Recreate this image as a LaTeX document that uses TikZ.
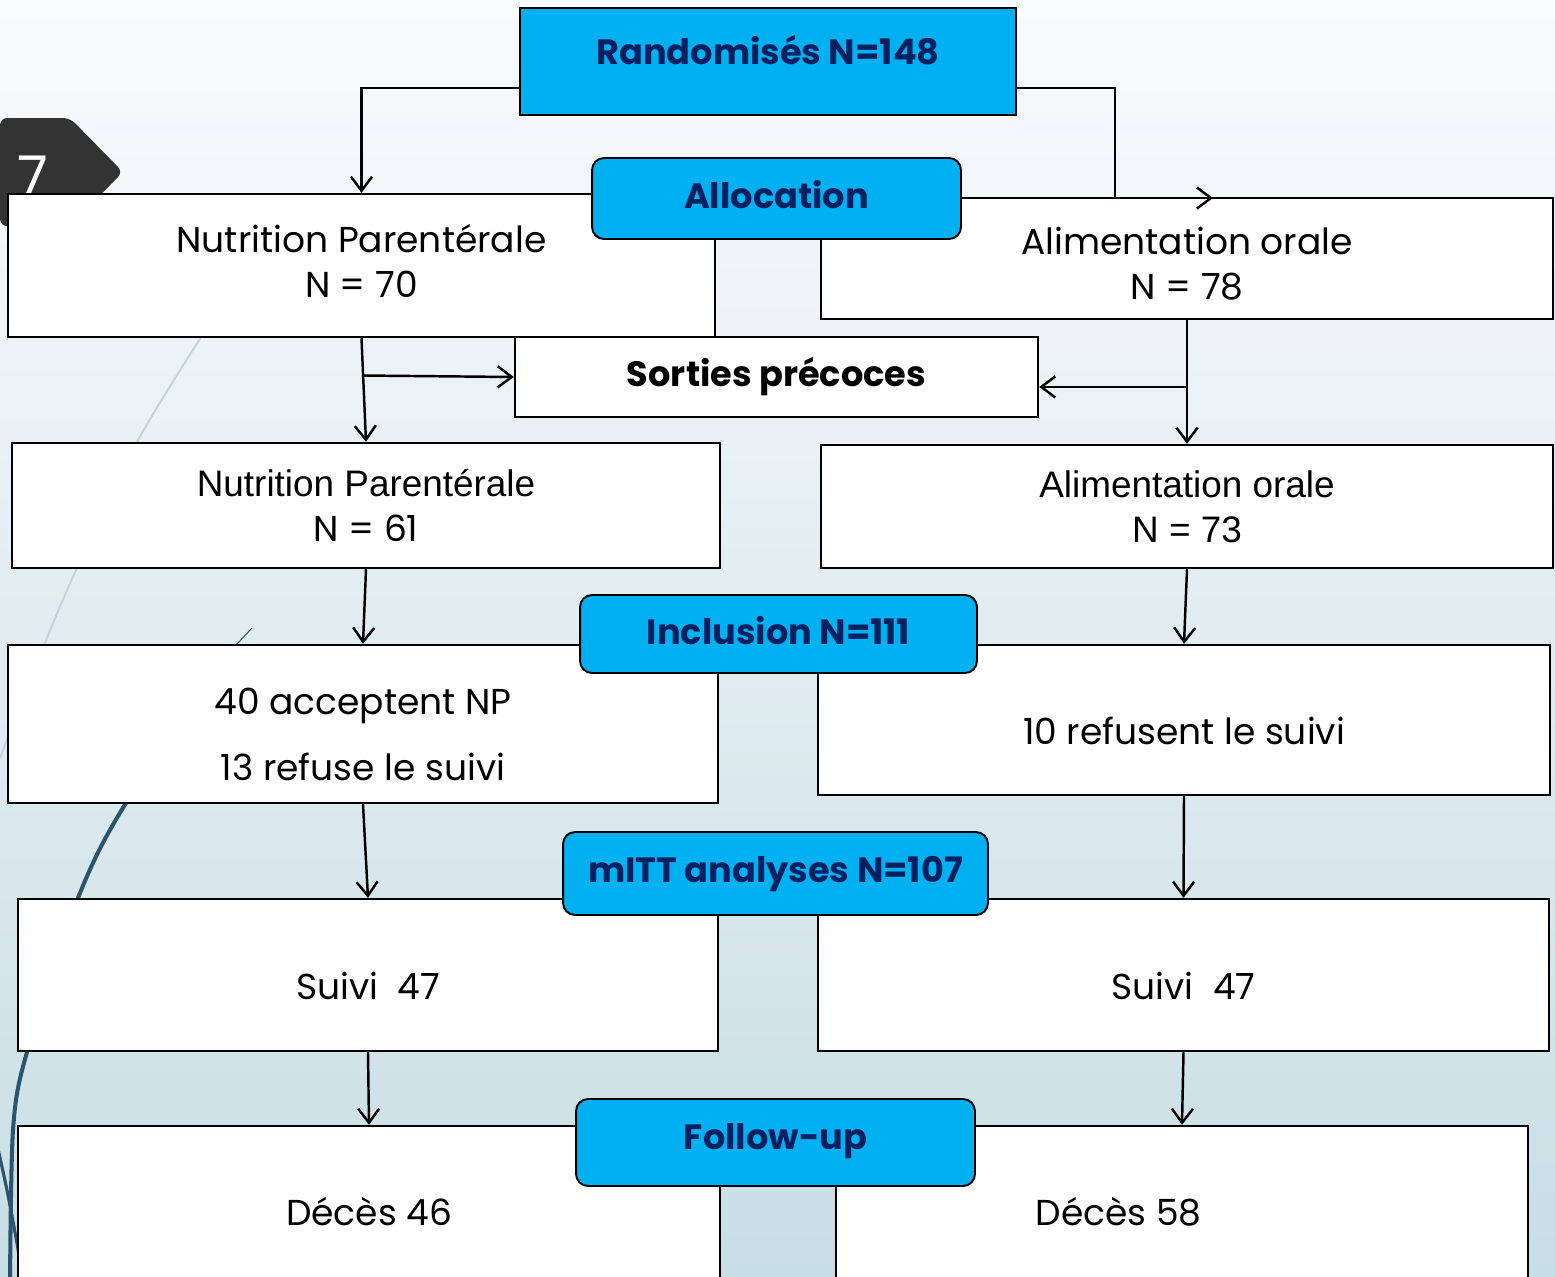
\documentclass[tikz,border=0pt]{standalone}
\usepackage{fontspec}
\setmainfont{Poppins}
\newfontfamily\arialfont{Liberation Sans}
\usetikzlibrary{arrows.meta,calc}

\definecolor{hubblue}{RGB}{0,176,240}
\definecolor{hubtext}{RGB}{0,32,96}
\definecolor{bgtop}{RGB}{250,251,252}
\definecolor{bgbot}{RGB}{200,222,229}
\definecolor{swirl}{RGB}{44,84,108}
\definecolor{faint}{RGB}{196,210,218}
\definecolor{tagGrey}{RGB}{51,51,51}

\tikzset{
  flowbox/.style={draw,line width=1.4pt,fill=white,inner sep=0pt,align=center,
    font=\fontsize{20.5}{25.5}\selectfont},
  hubbox/.style={draw,line width=1.1pt,fill=hubblue,rounded corners=0.24cm,
    text=hubtext,inner sep=0pt,font=\fontsize{20}{23}\selectfont\bfseries},
  lift/.style={text depth=0pt,text height=#1},
  arr/.style={line width=1.4pt,-{Straight Barb[length=8pt,width=12pt]}}
}

\begin{document}
\begin{tikzpicture}[x=0.02cm,y=-0.02cm]
  \useasboundingbox (0,0) rectangle (1555,1276);
  \clip (0,0) rectangle (1555,1276);
  \shade[top color=bgtop,bottom color=bgbot] (0,0) rectangle (1555,1276);

  % background swirls
  \draw[faint,line width=1.1pt] plot[smooth] coordinates {(212,320) (138,440) (77,568) (45,643) (0,758)};
  \draw[swirl,line width=0.6pt] (252,628) -- (236,645);
  \draw[swirl,line width=2.3pt] plot[smooth] coordinates {(236,645) (126,803) (78,898) (27,1052) (13,1130) (10,1290)};
  \draw[swirl,line width=1.8pt] plot[smooth] coordinates {(-4,1140) (8,1195) (20,1260)};

  % slide number tag
  \fill[tagGrey,rounded corners=4pt] (0,118) -- (70,118) -- (123,172) -- (70,226) -- (0,226) -- cycle;
  \node[white,font=\fontsize{32}{32}\selectfont] (slidenum) at (33,176) {7};

  % boxes
  \node[flowbox,minimum width=14.14cm,minimum height=2.86cm] (np1) at (361.5,265.5) {Nutrition Parentérale\\N = 70\rule[-5.6pt]{0pt}{5.6pt}};
  \node[flowbox,minimum width=14.64cm,minimum height=2.42cm] (ao1) at (1187,258.5) {\rule{0pt}{21pt}Alimentation orale\\N = 78};
  \node[flowbox,minimum width=10.46cm,minimum height=1.6cm,font=\fontsize{20}{23}\selectfont\bfseries] (sort) at (776.5,377) {Sorties précoces};
  \node[flowbox,minimum width=14.16cm,minimum height=2.5cm] (np2) at (366,505.5) {{\arialfont\fontsize{21}{25.5}\selectfont Nutrition Parentérale}\\N = 61};
  \node[flowbox,minimum width=14.64cm,minimum height=2.46cm,font=\arialfont\fontsize{21}{25.5}\selectfont] (ao2) at (1187,506.5) {Alimentation orale\\N = 73};
  \node[flowbox,minimum width=14.2cm,minimum height=3.16cm] (np3) at (363,724) {\rule{0pt}{27pt}40 acceptent NP\\[12pt]13 refuse le suivi};
  \node[flowbox,lift=28pt,minimum width=14.64cm,minimum height=3.0cm] (ao3) at (1184,720) {10 refusent le suivi};
  \node[flowbox,lift=28pt,minimum width=14.0cm,minimum height=3.04cm] (suivL) at (368,975) {Suivi\ \ 47};
  \node[flowbox,lift=28pt,minimum width=14.62cm,minimum height=3.04cm] (suivR) at (1183.5,975) {Suivi\ \ 47};
  \node[flowbox,lift=20pt,minimum width=14.04cm,minimum height=3.28cm] (decL) at (369,1208) {Décès 46};
  \node[flowbox,lift=20pt,minimum width=13.84cm,minimum height=3.28cm] (decR) at (1182,1208) {Décès 58\hspace*{72pt}};

  % blue headers
  \node[hubbox,lift=3.2pt,rounded corners=0pt,line width=1.4pt,minimum width=9.92cm,minimum height=2.14cm] (rand) at (768,61.5) {Randomisés N=148};
  \node[hubbox,lift=11.2pt,minimum width=7.38cm,minimum height=1.62cm] (alloc) at (776.5,198.5) {Allocation};
  \node[hubbox,lift=12pt,minimum width=7.94cm,minimum height=1.56cm] (incl) at (778.5,634) {Inclusion N=111};
  \node[hubbox,lift=10pt,minimum width=8.5cm,minimum height=1.66cm] (mitt) at (775.5,873.5) {mITT analyses N=107};
  \node[hubbox,lift=7.8pt,minimum width=7.98cm,minimum height=1.74cm] (follow) at (775.5,1142.5) {Follow-up};

  % connectors
  \coordinate (aobend) at (1115,198);
  \coordinate (aotip) at (1213,198);
  \draw[arr] ([yshift=0.56cm]rand.south west) -| (np1.north);
  \draw[arr] ([yshift=0.56cm]rand.south east) -| (aobend) -- (aotip);
  \draw[arr] (np1.south) -- (np2.north);
  \draw[arr] ($(np1.south)!0.36!(np2.north)$) -- (sort.west);
  \draw[arr] (ao1.south) -- (ao2.north);
  \coordinate (aoexit) at ($(ao1.south)!0.54!(ao2.north)$);
  \draw[arr] (aoexit) -- (aoexit -| sort.east);
  \draw[arr] (np2.south) -- (np3.north);
  \draw[arr] (ao2.south) -- (ao3.north);
  \draw[arr] (np3.south) -- (suivL.north);
  \draw[arr] (ao3.south) -- (suivR.north);
  \draw[arr] (suivL.south) -- (decL.north);
  \draw[arr] (suivR.south) -- (decR.north);
\end{tikzpicture}
\end{document}
